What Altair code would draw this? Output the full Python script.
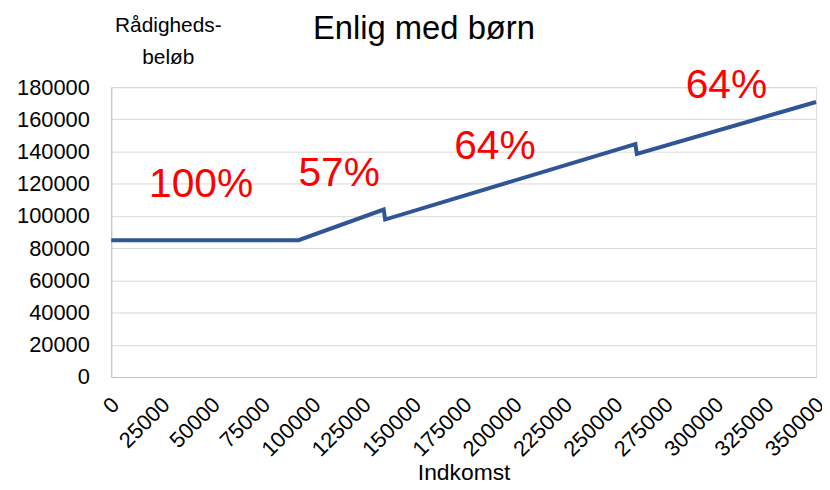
import altair as alt
import pandas as pd

# Line data (income, disposable amount)
income = [0, 93000, 135300, 136000, 260300, 261000, 350000]
amount = [85000, 85000, 104000, 97800, 144700, 138500, 170800]

# Annotations (marginal rates)
ann_text = ["100%", "57%", "64%", "64%"]
ann_x = [44600, 113200, 190500, 305500]
ann_y = [111800, 118400, 135600, 173400]

x_ticks = list(range(0, 350001, 25000))
y_ticks = list(range(0, 180001, 20000))

FONT = "Liberation Sans"

line_df = pd.DataFrame({"Indkomst": income, "Beløb": amount})
ann_df = pd.DataFrame({"Indkomst": ann_x, "Beløb": ann_y, "t": ann_text})

xscale = alt.Scale(domain=[0, 350000], nice=False, zero=False)
yscale = alt.Scale(domain=[0, 180000], nice=False)

x_axis = alt.Axis(
    values=x_ticks, labelAngle=-45, labelAlign="right", labelBaseline="middle",
    labelPadding=24, labelOffset=4, ticks=False, grid=False, format="d",
    title="Indkomst", titleY=103, titleBaseline="alphabetic",
    labelFontSize=22, titleFontSize=23, labelFont=FONT, titleFont=FONT,
    labelColor="#000000", titleColor="#000000", titleFontWeight="normal",
    domainColor="#bfbfbf", labelOverlap=False, labelFlush=False,
)
y_axis = alt.Axis(
    values=y_ticks, ticks=False, grid=True, gridColor="#d9d9d9", format="d",
    labelPadding=22, labelFontSize=22, labelFont=FONT, labelColor="#000000",
    labelOverlap=False, labelFlush=False,
    title=["Rådigheds-", "beløb"], titleAngle=0, titleAlign="center",
    titleBaseline="alphabetic", titleX=57, titleY=-56, titleFontSize=21,
    titleFont=FONT, titleColor="#000000", titleFontWeight="normal",
    titleLineHeight=32, domainColor="#bfbfbf",
)

xenc = alt.X("Indkomst:Q", scale=xscale, axis=x_axis)
yenc = alt.Y("Beløb:Q", scale=yscale, axis=y_axis)

line = alt.Chart(line_df).mark_line(color="#2F5597", strokeWidth=4).encode(
    x=xenc, y=yenc,
)

ann = alt.Chart(ann_df).mark_text(
    color="#ff0000", fontSize=41, font=FONT, align="center", baseline="alphabetic", clip=False
).encode(
    x=xenc, y=yenc, text="t:N",
)

chart = alt.layer(line, ann).properties(
    width=710, height=292,
    title=alt.TitleParams("Enlig med børn", fontSize=33, font=FONT, fontWeight="normal",
                          color="#000000", anchor="middle", dx=-40, dy=35),
    autosize=alt.AutoSizeParams(type="none"),
    padding={"left": 104, "top": 78, "right": 6, "bottom": 104},
).configure_view(stroke=None).configure(background="#ffffff")

chart.save("out.html", embed_options={"renderer": "svg", "actions": False})
